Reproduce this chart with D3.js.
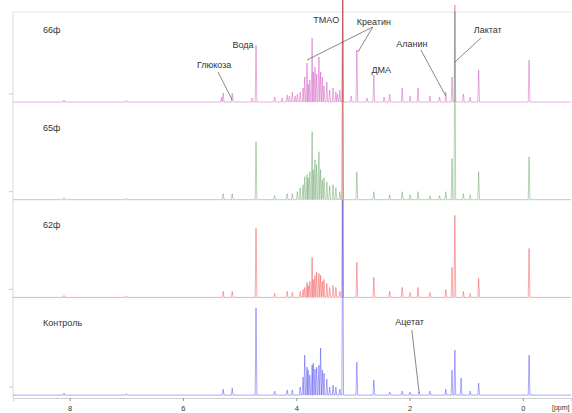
<!DOCTYPE html>
<html>
<head>
<meta charset="utf-8">
<script src="https://cdn.jsdelivr.net/npm/d3@7"></script>
<style>
  body { margin: 0; background: #fff; }
  svg { display: block; font-family: "Liberation Sans", Arial, sans-serif; }
</style>
</head>
<body>
<svg id="chart" width="572" height="413"></svg>
<script>
// sample names, top to bottom
const samples = ['66ф', '65ф', '62ф', 'Контроль'];
const colours = ['#c83cb4', '#4f944f', '#f03232', '#3232f0'];

// peaks: [ppm, intensity]
const peaks66 = [
  [-0.11, 42], [0.78, 32], [0.93, 5], [1.05, 8], [1.20, 97], [1.25, 25], [1.36, 10],
  [1.47, 5], [1.64, 6], [1.85, 14], [1.99, 6], [2.13, 14], [2.35, 8], [2.45, 5],
  [2.63, 27], [2.75, 4], [2.93, 52], [3.03, 6], [3.18, 110], [3.23, 12], [3.27, 8],
  [3.30, 10], [3.35, 14], [3.41, 12], [3.46, 20], [3.51, 16], [3.54, 25], [3.57, 30],
  [3.60, 45], [3.64, 28], [3.67, 35], [3.70, 30], [3.72, 64], [3.76, 22], [3.79, 18],
  [3.81, 39], [3.85, 25], [3.88, 14], [3.93, 10], [3.98, 8], [4.02, 6], [4.07, 10],
  [4.12, 6], [4.16, 7], [4.25, 4], [4.38, 5], [4.71, 57], [4.78, 4], [5.13, 9],
  [5.29, 9], [5.32, 5], [7.0, 1.5], [8.1, 2]
];
const peaks65 = [
  [-0.11, 43], [0.78, 28], [0.93, 5], [1.05, 6], [1.20, 188], [1.25, 41], [1.36, 8],
  [1.47, 4], [1.64, 4], [1.85, 8], [1.99, 5], [2.13, 8], [2.35, 5], [2.63, 8],
  [2.93, 28], [3.18, 200], [3.23, 8], [3.30, 12], [3.35, 15], [3.41, 14], [3.46, 18],
  [3.51, 22], [3.54, 20], [3.57, 30], [3.60, 48], [3.64, 35], [3.67, 40], [3.70, 30],
  [3.72, 68], [3.76, 28], [3.79, 22], [3.81, 25], [3.85, 23], [3.88, 15], [3.93, 12],
  [3.98, 8], [4.07, 6], [4.16, 6], [4.38, 4], [4.71, 58], [5.13, 6], [5.29, 6],
  [7.0, 1.5], [8.1, 2]
];
const peaks62 = [
  [-0.11, 49], [0.78, 19], [0.93, 4], [1.05, 6], [1.20, 82], [1.25, 30], [1.36, 8],
  [1.64, 5], [1.85, 10], [1.99, 5], [2.13, 10], [2.35, 6], [2.63, 20], [2.93, 35],
  [3.18, 300], [3.23, 6], [3.30, 10], [3.35, 12], [3.41, 10], [3.46, 14], [3.51, 18],
  [3.54, 16], [3.57, 22], [3.60, 24], [3.64, 25], [3.67, 22], [3.70, 18], [3.72, 40],
  [3.76, 16], [3.79, 12], [3.81, 15], [3.85, 10], [3.88, 8], [3.93, 6], [4.07, 5],
  [4.16, 6], [4.38, 4], [4.71, 69], [5.13, 6], [5.29, 6], [7.0, 1.5], [8.1, 2]
];
const peaksControl = [
  [-0.11, 40], [0.78, 12], [0.93, 4], [1.09, 17], [1.20, 45], [1.25, 25], [1.36, 6],
  [1.64, 4], [1.83, 3], [1.99, 3], [2.13, 4], [2.35, 3], [2.63, 15], [2.93, 33],
  [3.18, 195], [3.23, 6], [3.30, 8], [3.35, 10], [3.41, 8], [3.46, 16], [3.51, 22],
  [3.54, 25], [3.57, 47], [3.60, 30], [3.64, 28], [3.67, 26], [3.70, 32], [3.72, 30],
  [3.76, 20], [3.79, 25], [3.81, 28], [3.85, 40], [3.88, 18], [3.93, 8], [4.07, 5],
  [4.16, 5], [4.38, 4], [4.71, 87], [5.13, 7], [5.29, 6], [7.0, 1.5], [8.1, 2]
];
const spectra = [peaks66, peaks65, peaks62, peaksControl];

// metabolite labels: [text, label ppm, label value, panel]
const labels = [
  ['Глюкоза', 5.45, 34, 0],
  ['Вода', 4.94, 54, 0],
  ['TMAO', 3.47, 79, 0],
  ['Креатин', 2.63, 77, 0],
  ['ДМА', 2.50, 29, 0],
  ['Аланин', 1.96, 55, 0],
  ['Лактат', 0.62, 69, 0],
  ['Ацетат', 2.00, 70, 3]
];
// leader lines: [from ppm, from value, to ppm, to value, panel]
const leaders = [
  [5.38, 30, 5.13, 2, 0],
  [2.65, 75, 3.81, 42, 0],
  [2.65, 75, 2.91, 50, 0],
  [1.80, 52, 1.36, 6, 0],
  [0.74, 64, 1.20, 40, 0],
  [1.96, 65, 1.83, 2, 3]
];
const xTicks = [8, 6, 4, 2, 0];

const svg = d3.select('#chart');
const plotLeft = 13, plotRight = 571, plotTop = 12, axisY = 398;
const firstBase = 102, step = 97.7;

const x = d3.scaleLinear().domain([9, -0.85]).range([plotLeft, plotRight]);
const y = d3.scaleLinear().domain([0, 100]).range([0, -100]);
const base = i => firstBase + i * step;

// frame
svg.append('line').attr('x1', plotLeft).attr('x2', plotRight).attr('y1', plotTop).attr('y2', plotTop)
  .attr('stroke', '#e4e4e4');
svg.append('line').attr('x1', plotLeft).attr('x2', plotLeft).attr('y1', plotTop).attr('y2', axisY)
  .attr('stroke', '#dadada');
samples.forEach((s, i) => {
  svg.append('line').attr('x1', plotLeft - 4).attr('x2', plotLeft)
    .attr('y1', base(i) - 8).attr('y2', base(i) - 8)
    .attr('stroke', '#ccc');
});

// turn a peak list into the vertices of a stick spectrum
const toPoints = (peaks) => {
  const w = 0.015;
  const pts = [[x.domain()[0], 0]];
  peaks.slice().sort((a, b) => b[0] - a[0]).forEach(p => {
    pts.push([p[0] + w, 0], [p[0], p[1]], [p[0] - w, 0]);
  });
  pts.push([x.domain()[1], 0]);
  return pts;
};

spectra.forEach((peaks, i) => {
  const line = d3.line().x(d => x(d[0])).y(d => base(i) + y(d[1]));
  svg.append('path')
    .datum(toPoints(peaks))
    .attr('d', line)
    .attr('fill', 'none')
    .attr('stroke', colours[i])
    .attr('stroke-width', 0.7)
    .attr('stroke-opacity', 0.6);

  svg.append('text')
    .attr('x', 43).attr('y', base(i) - 69)
    .attr('font-size', 9).attr('fill', '#333')
    .text(samples[i]);
});

// annotations
labels.forEach(([t, lp, lv, panel]) => {
  svg.append('text').attr('x', x(lp)).attr('y', base(panel) + y(lv))
    .attr('text-anchor', 'middle')
    .attr('font-size', 9).attr('fill', '#333').text(t);
});
leaders.forEach(([fp, fv, tp, tv, panel]) => {
  svg.append('line')
    .attr('x1', x(fp)).attr('y1', base(panel) + y(fv))
    .attr('x2', x(tp)).attr('y2', base(panel) + y(tv))
    .attr('stroke', '#555').attr('stroke-width', 0.7);
});

// x axis
const axis = svg.append('g')
  .attr('transform', `translate(0,${axisY})`)
  .call(d3.axisBottom(x).tickValues(xTicks).tickSize(3).tickFormat(d3.format('d')));
axis.select('.domain').attr('stroke', '#ccc');
axis.selectAll('.tick line').attr('stroke', '#999');
axis.selectAll('.tick text').attr('font-size', 7.5).attr('fill', '#333').attr('dy', '0.9em')
  .style('font-family', '"Liberation Sans", Arial, sans-serif');

svg.append('text').attr('x', 552).attr('y', 410)
  .attr('font-size', 7).attr('fill', '#333').text('[ppm]');
</script>
</body>
</html>
